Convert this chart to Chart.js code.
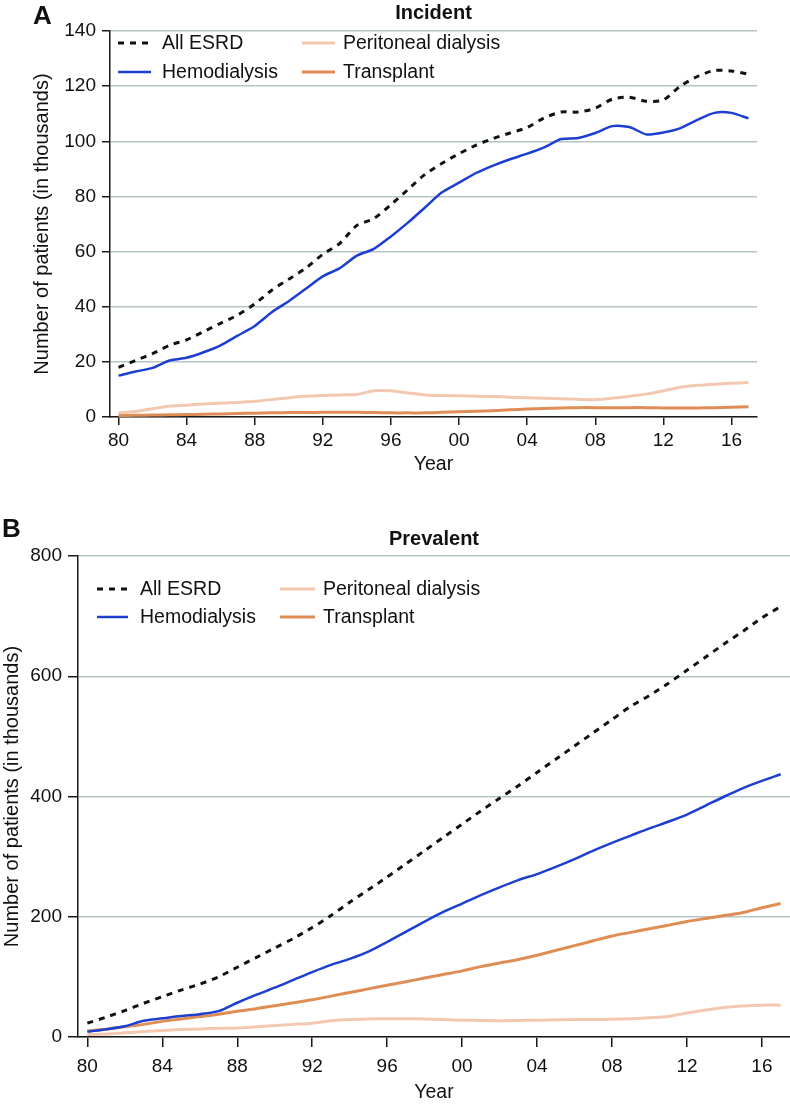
<!DOCTYPE html>
<html>
<head>
<meta charset="utf-8">
<title>ESRD incident and prevalent patients</title>
<script src="https://cdn.jsdelivr.net/npm/chart.js@4/dist/chart.umd.min.js"></script>
<style>
  body { margin: 0; background: #fff; }
  #wrap { position: relative; width: 790px; height: 1105px; }
  canvas { position: absolute; left: 0; }
  #chartA { top: 0; }
  #chartB { top: 500px; }
</style>
</head>
<body>
<div id="wrap">
  <canvas id="chartA" width="790" height="480"></canvas>
  <canvas id="chartB" width="790" height="605"></canvas>
</div>
<script>
// years 1980..2017
const years = [1980,1981,1982,1983,1984,1985,1986,1987,1988,1989,1990,1991,1992,1993,1994,1995,1996,1997,1998,1999,
  2000,2001,2002,2003,2004,2005,2006,2007,2008,2009,2010,2011,2012,2013,2014,2015,2016,2017];
const xTicks = [1980,1984,1988,1992,1996,2000,2004,2008,2012,2016];
const seriesNames = ["All ESRD", "Hemodialysis", "Peritoneal dialysis", "Transplant"];

// incident, in thousands
const incAll = [18,20.5,23,26,28,31,34,37,41,46,50,54,59,63,69.5,72,77,82.5,88,92,
  95.5,98.6,101,103,105,108.5,110.6,110.6,112,115.3,116,114.5,115,120,123.5,125.7,125.5,124.3];
const incHD = [15,16.5,17.8,20.5,21.5,23.5,26,29.5,33,38,42,46.5,51,54,58.5,61,65.5,70.5,76,81.5,
  85,88.5,91.2,93.5,95.5,97.8,100.8,101.2,103,105.5,105.2,102.5,103.2,104.8,107.8,110.3,110.3,108.3];
const incPD = [1.5,2,3,4,4.3,4.7,5,5.3,5.7,6.3,7,7.5,7.8,8,8.2,9.5,9.5,8.7,8,7.8,
  7.7,7.5,7.4,7.2,7,6.8,6.6,6.4,6.3,6.8,7.5,8.3,9.5,10.8,11.5,11.9,12.2,12.5];
const incTx = [0.5,0.6,0.7,0.8,0.9,1,1.1,1.3,1.4,1.5,1.6,1.6,1.7,1.7,1.7,1.6,1.5,1.5,1.5,1.7,
  1.9,2.1,2.3,2.6,2.9,3.1,3.3,3.4,3.4,3.4,3.4,3.4,3.3,3.3,3.3,3.4,3.5,3.7];

// prevalent, in thousands
const prevAll = [23,33,44,56,67,78,88,100,116,132,148,164,182,202,224,245,266,288,310,332,
  354,376,397,418,440,462,484,506,528,550,568,588,610,632,654,675,697,716];
const prevHD = [9,13,18,27,31,35,38,43,57,70,82,95,108,120,130,142,158,175,192,208,
  222,236,249,261,271,283,296,310,323,335,347,358,370,385,400,414,426,437];
const prevPD = [4,5,7,9,11,12.5,13.5,14.5,15,17,19,21,23,27,29,30,30.5,30.5,30,29,
  28,27.5,27,27.5,28,28.5,29,29,29.5,30.5,32,34,40,45,49,51.5,53,53];
const prevTx = [10,13,17,21,26,30,34,38,43,47,52,57,62,68,74,80,86,92,98,104,
  110,117,123,129,136,144,152,160,168,174,180,186,192,197,202,207,215,222];

const FONT = '"Liberation Sans", Arial, Helvetica, sans-serif';
const gridColor = "#b6c6c4";
const axisColor = "#1a1a1a";

function points(vals) {
  return years.map((y, i) => ({ x: y, y: vals[i] }));
}

function makeDatasets(all, hd, pd, tx) {
  return [
    { label: seriesNames[0], data: points(all), borderColor: "#111", borderWidth: 3, borderDash: [6, 6] },
    { label: seriesNames[1], data: points(hd), borderColor: "#1c3fd0", borderWidth: 2.5 },
    { label: seriesNames[2], data: points(pd), borderColor: "#f3c8b0", borderWidth: 3 },
    { label: seriesNames[3], data: points(tx), borderColor: "#e08d55", borderWidth: 3 }
  ];
}

// letter, title and legend drawn on top of the chart
const panelDecor = {
  id: "panelDecor",
  afterDraw(chart, args, opts) {
    const ctx = chart.ctx;
    const area = chart.chartArea;
    ctx.save();
    ctx.fillStyle = "#111";
    ctx.textAlign = "left";
    ctx.textBaseline = "alphabetic";
    ctx.font = "bold 26px " + FONT;
    ctx.fillText(opts.letter, opts.letterX, opts.letterY);

    ctx.font = "bold 20px " + FONT;
    ctx.textAlign = "center";
    ctx.textBaseline = "middle";
    ctx.fillText(opts.title, (area.left + area.right) / 2, opts.titleY);

    ctx.font = "19.5px " + FONT;
    ctx.textAlign = "left";
    chart.data.datasets.forEach((ds, i) => {
      const s = opts.slots[i];
      ctx.strokeStyle = ds.borderColor;
      ctx.lineWidth = ds.borderWidth;
      ctx.setLineDash(ds.borderDash || []);
      ctx.beginPath();
      ctx.moveTo(s.x, s.y);
      ctx.lineTo(s.x2, s.y);
      ctx.stroke();
      ctx.setLineDash([]);
      ctx.fillText(ds.label, s.tx, s.y + 1);
    });
    ctx.restore();
  }
};

function buildChart(id, cfg) {
  return new Chart(document.getElementById(id).getContext("2d"), {
    type: "line",
    data: { datasets: cfg.datasets },
    plugins: [panelDecor],
    options: {
      responsive: false,
      animation: false,
      devicePixelRatio: 1,
      layout: { padding: cfg.padding },
      elements: { point: { radius: 0 }, line: { tension: 0.25, borderCapStyle: "butt" } },
      plugins: {
        legend: { display: false },
        tooltip: { enabled: false },
        panelDecor: cfg.decor
      },
      scales: {
        x: {
          type: "linear",
          min: 1979.5,
          max: 2017.5,
          afterFit: s => { s.height = cfg.xHeight; },
          afterBuildTicks: s => { s.ticks = xTicks.map(v => ({ value: v })); },
          grid: { drawOnChartArea: false, drawTicks: true, tickLength: cfg.tickLen, color: axisColor, tickColor: axisColor, lineWidth: 1.5 },
          border: { display: true, color: axisColor, width: 1.5 },
          ticks: {
            padding: cfg.xPad,
            color: "#111",
            font: { family: FONT, size: 19 },
            maxRotation: 0,
            callback: v => String(v % 100).padStart(2, "0")
          },
          title: { display: true, text: "Year", color: "#111", font: { family: FONT, size: 19.5 }, padding: { top: 0, bottom: cfg.xTitlePad } }
        },
        y: {
          min: 0,
          max: cfg.yMax,
          afterFit: s => { s.width = cfg.yWidth; },
          grid: { color: gridColor, lineWidth: 1.5, tickColor: axisColor, tickLength: cfg.tickLen },
          border: { display: true, color: axisColor, width: 1.5 },
          ticks: { stepSize: cfg.yStep, padding: 6, color: "#111", font: { family: FONT, size: 19 } },
          title: { display: true, text: "Number of patients (in thousands)", color: "#111", font: { family: FONT, size: 20 }, padding: { top: cfg.yTitlePad, bottom: 0 } }
        }
      }
    }
  });
}

buildChart("chartA", {
  datasets: makeDatasets(incAll, incHD, incPD, incTx),
  padding: { top: 31, left: 28, right: 33, bottom: 0 },
  yWidth: 82, xHeight: 63, tickLen: 8, xPad: 4, xTitlePad: 4, yTitlePad: 2,
  yMax: 140, yStep: 20,
  decor: {
    letter: "A", letterX: 33, letterY: 24, title: "Incident", titleY: 13,
    slots: [
      { x: 118, x2: 151, tx: 162, y: 43 },
      { x: 118, x2: 151, tx: 162, y: 72 },
      { x: 302, x2: 335, tx: 343, y: 43 },
      { x: 302, x2: 335, tx: 343, y: 72 }
    ]
  }
});

buildChart("chartB", {
  datasets: makeDatasets(prevAll, prevHD, prevPD, prevTx),
  padding: { top: 56, left: 0, right: 0, bottom: 0 },
  yWidth: 78, xHeight: 68, tickLen: 10, xPad: 8, xTitlePad: 1, yTitlePad: 0,
  yMax: 800, yStep: 200,
  decor: {
    letter: "B", letterX: 2, letterY: 37, title: "Prevalent", titleY: 39,
    slots: [
      { x: 97, x2: 128, tx: 140, y: 89 },
      { x: 97, x2: 128, tx: 140, y: 117 },
      { x: 280, x2: 315, tx: 323, y: 89 },
      { x: 280, x2: 315, tx: 323, y: 117 }
    ]
  }
});
</script>
</body>
</html>
